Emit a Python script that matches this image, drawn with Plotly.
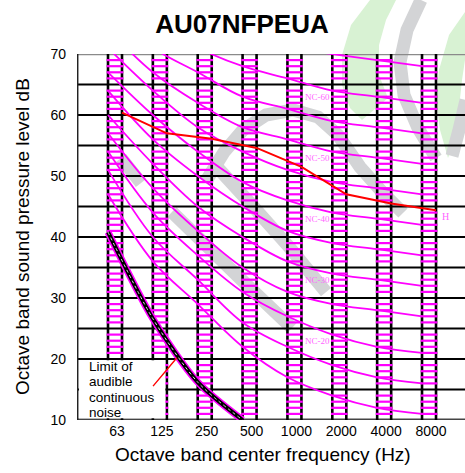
import plotly.graph_objects as go

# ---------------- data ----------------
freq_labels = ["63", "125", "250", "500", "1000", "2000", "4000", "8000"]

nc_15 = [47, 36, 29, 22, 17, 14, 12, 11]
nc_20 = [51, 40, 33, 26, 22, 19, 17, 16]
nc_25 = [54, 44, 37, 31, 27, 24, 22, 21]
nc_30 = [57, 48, 41, 35, 31, 29, 28, 27]
nc_35 = [60, 52, 45, 40, 36, 34, 33, 32]
nc_40 = [64, 56, 50, 45, 41, 39, 38, 37]
nc_45 = [67, 60, 54, 49, 46, 44, 43, 42]
nc_50 = [71, 64, 58, 54, 51, 49, 48, 47]
nc_55 = [74, 67, 62, 58, 56, 54, 53, 52]
nc_60 = [77, 71, 67, 63, 61, 59, 58, 57]
nc_65 = [80, 75, 71, 68, 66, 64, 63, 62]
nc_70 = [83, 79, 75, 72, 71, 70, 69, 68]

nc_label_text = ["NC-60", "NC-50", "NC-40", "NC-30", "NC-20"]
nc_label_db = [63, 53, 43, 33, 23]

measured_h = [60.4, 57.0, 56.1, 54.6, 51.5, 47.0, 45.5, 44.4]
measured_label = "H"

limit_freq_idx = [0, 1, 2, 3]
limit_db = [40.8, 26.6, 16.2, 10.0]
limit_text = ["Limit of", "audible", "continuous", "noise"]

y_ticks = [10, 20, 30, 40, 50, 60, 70]

# ---------------- geometry helpers (layout only) ----------------
X_MIN, X_MAX = -0.847, 7.802
Y_MIN, Y_MAX = 10, 70
HALF = 0.156          # half width of each frequency column
L, T, W, H = 77, 54, 388, 366


def path(points, close=False):
    s = ""
    for k, (px, py) in enumerate(points):
        xp, yp = (px - L) / W, (420 - py) / H
        s += ("M" if k == 0 else "L") + f"{xp:.4f},{yp:.4f} "
    if close:
        s += "Z"
    return s


fig = go.Figure()
shapes = []

GREY = "#d3d4d6"
GREEN = "#d8f2d3"

# watermark (decorative)
shapes.append(dict(type="path", xref="paper", yref="paper", layer="below",
                   path=path([(370, 0), (351, 25), (342, 55), (342, 85), (350, 108), (362, 120),
                              (388, 98), (379, 75), (379, 45), (386, 20), (396, 0)], True),
                   fillcolor=GREEN, line=dict(width=0)))
shapes.append(dict(type="path", xref="paper", yref="paper", layer="below",
                   path=path([(465, 12), (449, 35), (439, 70), (436, 100), (440, 130), (448, 158),
                              (456, 138), (459, 108), (462, 80), (465, 60)], True),
                   fillcolor=GREEN, line=dict(width=0)))
for pts in [
    [(421, 0), (407, 30), (400, 62), (404, 95), (418, 128), (436, 158)],
    [(466, 100), (459, 130), (452, 156)],
    [(121, 158), (141, 183)],
    [(172, 212), (210, 249), (250, 288), (292, 328)],
    [(403, 213), (383, 193), (360, 167), (338, 135), (318, 117), (293, 110),
     (266, 115), (243, 130), (224, 152), (206, 181)],
    [(216, 166), (250, 203), (290, 248), (326, 292)],
]:
    shapes.append(dict(type="path", xref="paper", yref="paper", layer="below",
                       path=path(pts), line=dict(color=GREY, width=13)))

# horizontal grid lines every 5 dB
for yv in range(Y_MIN, Y_MAX + 1, 5):
    col, wd = "black", 2
    if yv == Y_MAX:
        col, wd = "#8a8a8a", 2.5
    if yv == Y_MIN:
        col, wd = "#444444", 3
    shapes.append(dict(type="line", xref="x", yref="y", layer="below",
                       x0=X_MIN, x1=X_MAX, y0=yv, y1=yv,
                       line=dict(color=col, width=wd)))

# column lines
for i in range(len(freq_labels)):
    for dx in (-HALF, HALF):
        shapes.append(dict(type="line", xref="x", yref="y", layer="below",
                           x0=i + dx, x1=i + dx, y0=Y_MIN, y1=Y_MAX,
                           line=dict(color="black", width=2.6)))

# left axis line
shapes.append(dict(type="line", xref="x", yref="y", layer="below",
                   x0=X_MIN + 0.01, x1=X_MIN + 0.01, y0=Y_MIN, y1=Y_MAX,
                   line=dict(color="#222222", width=2)))

# magenta hatch bars in each column
bx, by = [], []
for i in range(len(freq_labels)):
    for d in range(Y_MIN + 1, Y_MAX):
        if d % 5 == 0:
            continue
        bx += [i - HALF - 0.03, i + HALF + 0.03, None]
        by += [d, d, None]
fig.add_trace(go.Scatter(x=bx, y=by, mode="lines", line=dict(color="#ff00ff", width=2.2),
                         hoverinfo="skip", showlegend=False))

# NC curves
nc_x = [i - HALF for i in range(len(freq_labels))]
for curve in [nc_15, nc_20, nc_25, nc_30, nc_35, nc_40, nc_45, nc_50, nc_55, nc_60, nc_65, nc_70]:
    fig.add_trace(go.Scatter(x=nc_x, y=curve, mode="lines",
                             line=dict(color="#ff00ff", width=1.8, shape="spline", smoothing=1.0),
                             showlegend=False))

# limit of audible continuous noise
lim_x = [i - HALF for i in limit_freq_idx]
fig.add_trace(go.Scatter(x=lim_x, y=limit_db, mode="lines",
                         line=dict(color="#ff00ff", width=7, shape="spline", smoothing=0.8),
                         showlegend=False))
fig.add_trace(go.Scatter(x=lim_x, y=limit_db, mode="lines",
                         line=dict(color="black", width=4, shape="spline", smoothing=0.8),
                         showlegend=False))
fig.add_trace(go.Scatter(x=lim_x, y=limit_db, mode="lines",
                         line=dict(color="#dddddd", width=1, dash="dot", shape="spline", smoothing=0.8),
                         showlegend=False))

# measured (H)
red_x = [i + HALF for i in range(len(freq_labels))]
fig.add_trace(go.Scatter(x=red_x, y=measured_h, mode="lines",
                         line=dict(color="#ff0000", width=2), showlegend=False))

# white box behind the limit text
shapes.append(dict(type="rect", xref="x", yref="y", layer="above",
                   x0=X_MIN + 0.045, x1=1 + HALF - 0.035, y0=Y_MIN + 0.3, y1=19.8,
                   fillcolor="white", line=dict(width=0)))

annotations = []
for txt, yv in zip(nc_label_text, nc_label_db):
    annotations.append(dict(x=4.19, y=yv, xref="x", yref="y", text=txt, showarrow=False,
                            xanchor="left", yanchor="middle",
                            font=dict(family="Liberation Serif, Times New Roman, serif",
                                      size=9, color="#ff66ff")))
annotations.append(dict(x=7.245, y=43.4, xref="x", yref="y", text=measured_label, showarrow=False,
                        xanchor="left", yanchor="middle",
                        font=dict(family="Liberation Serif, Times New Roman, serif",
                                  size=10, color="#ff66ff")))
for k, txt in enumerate(limit_text):
    annotations.append(dict(x=-0.624, y=18.75 - k * 2.5, xref="x", yref="y", text=txt,
                            showarrow=False, xanchor="left", yanchor="middle",
                            font=dict(family="Liberation Sans, Arial, sans-serif", size=13.5,
                                      color="black")))
annotations.append(dict(x=1.38, y=20.2, xref="x", yref="y", ax=0.82, ay=15.3,
                        axref="x", ayref="y", text="", showarrow=True, arrowhead=0,
                        arrowwidth=1.4, arrowcolor="#ff0000"))
# axis titles
annotations.append(dict(x=(263 - L) / W, y=(420 - 454) / H, xref="paper", yref="paper",
                        text="Octave band center frequency (Hz)", showarrow=False,
                        xanchor="center", yanchor="middle",
                        font=dict(family="Liberation Sans, Arial, sans-serif", size=19,
                                  color="black")))
annotations.append(dict(x=(22 - L) / W, y=0.5, xref="paper", yref="paper",
                        text="Octave band sound pressure level dB", showarrow=False,
                        textangle=-90, xanchor="center", yanchor="middle",
                        font=dict(family="Liberation Sans, Arial, sans-serif", size=19,
                                  color="black")))

fig.update_layout(
    width=465, height=473,
    margin=dict(l=L, r=0, t=T, b=473 - 420, pad=0),
    paper_bgcolor="white", plot_bgcolor="rgba(0,0,0,0)",
    title=dict(text="<b>AU07NFPEUA</b>", x=242 / 465, xref="container", xanchor="center",
               y=1 - 24 / 473, yref="container", yanchor="middle",
               font=dict(family="Liberation Sans, Arial, sans-serif", size=26, color="black")),
    xaxis=dict(range=[X_MIN, X_MAX], tickvals=list(range(len(freq_labels))),
               ticktext=freq_labels, showgrid=False, zeroline=False, showline=False,
               ticks="", ticklabelstandoff=1, ticklabelshift=2,
               tickfont=dict(family="Liberation Sans, Arial, sans-serif", size=14, color="black")),
    yaxis=dict(range=[Y_MIN, Y_MAX], tickvals=y_ticks, showgrid=False, zeroline=False,
               showline=False, ticks="", ticklabelstandoff=10,
               tickfont=dict(family="Liberation Sans, Arial, sans-serif", size=14, color="black")),
    shapes=shapes, annotations=annotations, showlegend=False,
)

fig.write_html("out.html")
